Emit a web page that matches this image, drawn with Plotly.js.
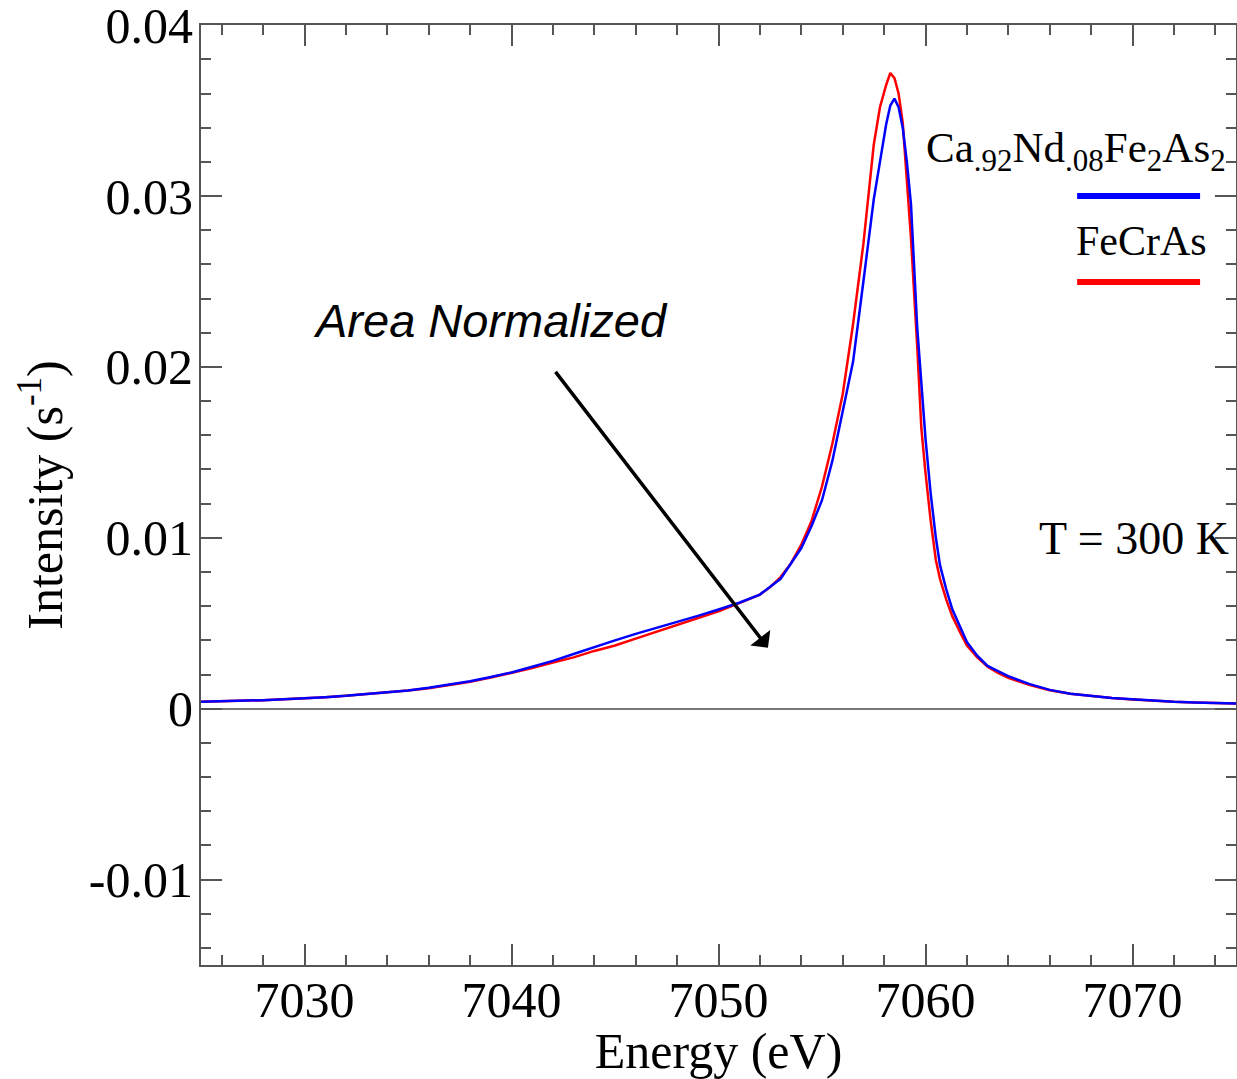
<!DOCTYPE html>
<html>
<head>
<meta charset="utf-8">
<script src="https://cdn.plot.ly/plotly-3.0.1.min.js"></script>
<style>html,body{margin:0;padding:0;background:#fff;}#chart{width:1237px;height:1079px;}</style>
</head>
<body>
<div id="chart"></div>
<script>
// Energy grid (eV)
const energy = [7025,7026,7027,7028,7029,7030,7031,7032,7033,7034,7035,7036,7037,7038,7039,7040,7041,7042,7043,7044,7045,7046,7047,7048,7049,7050,7051,7052,7052.5,7053,7053.5,7054,7054.5,7055,7055.5,7056,7056.5,7057,7057.5,7057.8,7058.1,7058.3,7058.5,7058.7,7058.9,7059.1,7059.3,7059.6,7059.8,7060.0,7060.25,7060.5,7060.7,7061,7061.3,7061.7,7062,7062.5,7063,7063.5,7064,7065,7066,7067,7068,7069,7070,7071,7072,7073,7074,7075];
// Ca.92Nd.08Fe2As2 (blue)
const caNd = [0.00040,0.00042,0.00046,0.00050,0.00055,0.00060,0.00067,0.00075,0.00085,0.00095,0.00107,0.00122,0.00140,0.00160,0.00185,0.00212,0.00245,0.00280,0.00320,0.00362,0.00400,0.00438,0.00472,0.00508,0.00543,0.00580,0.00620,0.00668,0.00712,0.00760,0.00850,0.00940,0.01070,0.01220,0.01450,0.01750,0.02030,0.02500,0.02980,0.03200,0.03420,0.03530,0.03570,0.03520,0.03400,0.03200,0.02950,0.02230,0.01900,0.01580,0.01260,0.01000,0.00840,0.00700,0.00580,0.00470,0.00390,0.00310,0.00250,0.00220,0.00190,0.00145,0.00110,0.00088,0.00074,0.00063,0.00055,0.00046,0.00040,0.00036,0.00032,0.00030];
// FeCrAs (red)
const feCrAs = [0.00040,0.00042,0.00045,0.00050,0.00055,0.00060,0.00067,0.00075,0.00084,0.00094,0.00106,0.00120,0.00138,0.00158,0.00182,0.00208,0.00238,0.00270,0.00300,0.00338,0.00370,0.00410,0.00450,0.00490,0.00530,0.00570,0.00618,0.00668,0.00712,0.00770,0.00850,0.00960,0.01100,0.01300,0.01550,0.01840,0.02250,0.02720,0.03300,0.03520,0.03650,0.03720,0.03690,0.03600,0.03430,0.03100,0.02750,0.02120,0.01640,0.01380,0.01100,0.00870,0.00760,0.00640,0.00540,0.00440,0.00370,0.00300,0.00245,0.00210,0.00180,0.00140,0.00108,0.00087,0.00073,0.00062,0.00054,0.00045,0.00040,0.00036,0.00032,0.00030];

const yTickVals = [-0.01,0,0.01,0.02,0.03,0.04];
const yTickText = ["-0.01","0","0.01","0.02","0.03","0.04"];
const xTickVals = [7030,7040,7050,7060,7070];
const xTickText = ["7030","7040","7050","7060","7070"];

const subStyle = 'style="font-size:31px"';
const seriesNames = ["FeCrAs",
  "Ca<sub><span " + subStyle + ">.92</span></sub>Nd<sub><span " + subStyle + ">.08</span></sub>Fe<sub><span " + subStyle + ">2</span></sub>As<sub><span " + subStyle + ">2</span></sub>"];
const arrowTail = [7042.07, 0.0198];
const arrowTip = [7052.39, 0.00357];

const serif = "Liberation Serif, Times New Roman, serif";
const axisColor = "#555";

const traces = [
  {x: energy, y: feCrAs, type: "scatter", mode: "lines", name: "FeCrAs", line: {color: "#ff0000", width: 2.5}},
  {x: energy, y: caNd, type: "scatter", mode: "lines", name: "Ca.92Nd.08Fe2As2", line: {color: "#0000ff", width: 2.5}}
];

const layout = {
  width: 1237, height: 1079,
  margin: {l: 201, r: 1, t: 25, b: 114},
  paper_bgcolor: "#fff", plot_bgcolor: "#fff",
  showlegend: false,
  font: {family: serif, color: "#000"},
  xaxis: {
    range: [7025, 7075],
    tickvals: xTickVals, ticktext: xTickText,
    ticks: "inside", ticklen: 21, tickwidth: 2, tickcolor: axisColor,
    minor: {dtick: 2, tick0: 7024, ticks: "inside", ticklen: 10, tickwidth: 2, tickcolor: axisColor},
    showline: true, linecolor: axisColor, linewidth: 2, mirror: "ticks",
    showgrid: false, zeroline: false,
    tickfont: {family: serif, size: 50, color: "#000"},
    ticklabelstandoff: -10, ticklabeloverflow: "allow",
    title: {text: "Energy (eV)", font: {family: serif, size: 50, color: "#000"}, standoff: 10}
  },
  yaxis: {
    range: [-0.015, 0.04001],
    tickvals: yTickVals, ticktext: yTickText,
    ticks: "inside", ticklen: 21, tickwidth: 2, tickcolor: axisColor,
    minor: {dtick: 0.002, tick0: 0, ticks: "inside", ticklen: 10, tickwidth: 2, tickcolor: axisColor},
    showline: true, linecolor: axisColor, linewidth: 2, mirror: "ticks",
    showgrid: false, zeroline: true, zerolinecolor: "#777", zerolinewidth: 2,
    tickfont: {family: serif, size: 50, color: "#000"},
    ticklabelstandoff: -4, ticklabeloverflow: "allow",
    title: {text: "Intensity (s<sup>-1</sup>)", font: {family: serif, size: 50, color: "#000"}, standoff: 10}
  },
  shapes: [
    {type: "line", xref: "paper", yref: "paper", x0: 0.8465, x1: 0.9653, y0: 0.818, y1: 0.818, line: {color: "#0000ff", width: 6}},
    {type: "line", xref: "paper", yref: "paper", x0: 0.8465, x1: 0.9653, y0: 0.7266, y1: 0.7266, line: {color: "#ff0000", width: 6}}
  ],
  annotations: [
    {text: seriesNames[1], xref: "paper", yref: "paper", x: 0.992, y: 0.866, xanchor: "right", yanchor: "middle", showarrow: false, font: {family: serif, size: 43, color: "#000"}},
    {text: seriesNames[0], xref: "paper", yref: "paper", x: 0.9083, y: 0.770, xanchor: "center", yanchor: "middle", showarrow: false, font: {family: serif, size: 42, color: "#000"}},
    {text: "T = 300 K", xref: "paper", yref: "paper", x: 0.995, y: 0.454, xanchor: "right", yanchor: "middle", showarrow: false, font: {family: serif, size: 46, color: "#000"}},
    {text: "<i>Area Normalized</i>", xref: "paper", yref: "paper", x: 0.280, y: 0.686, xanchor: "center", yanchor: "middle", showarrow: false, font: {family: "Liberation Sans, Arial, sans-serif", size: 47, color: "#000"}},
    {text: "", x: arrowTip[0], y: arrowTip[1], xref: "x", yref: "y", ax: arrowTail[0], ay: arrowTail[1], axref: "x", ayref: "y", showarrow: true, arrowhead: 1, arrowsize: 1.2, arrowwidth: 3.5, arrowcolor: "#000"}
  ]
};

Plotly.newPlot("chart", traces, layout, {staticPlot: true, displayModeBar: false});
</script>
</body>
</html>
